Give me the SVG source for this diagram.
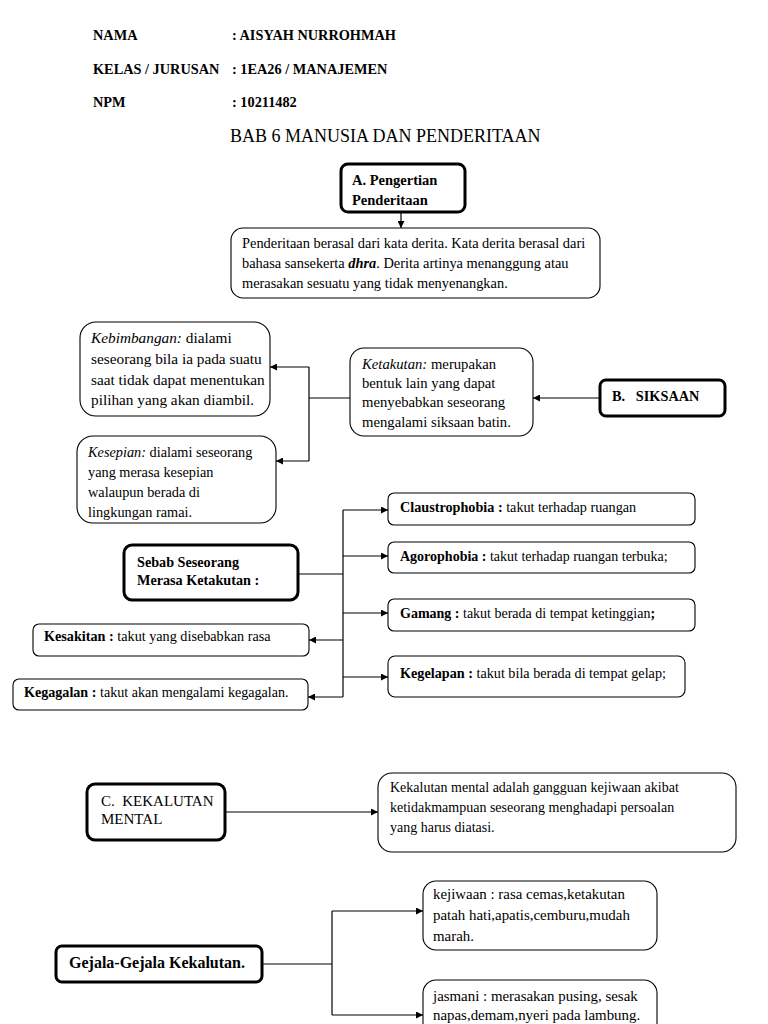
<svg xmlns="http://www.w3.org/2000/svg" width="768" height="1024" viewBox="0 0 768 1024">
<style>
text{font-family:"Liberation Serif","Times New Roman",serif;fill:#000;font-size:14.2px;}
.h{font-size:14.3px;font-weight:bold;}
.b{font-weight:bold;}
.i{font-style:italic;}
.box{fill:#fff;stroke:#000;stroke-width:1.1;}
.tb{fill:#fff;stroke:#000;stroke-width:3;}
.ln{fill:none;stroke:#000;stroke-width:1.2;}
</style>
<defs>
<marker id="ar" viewBox="0 0 10 10" refX="10" refY="5" markerWidth="8" markerHeight="7" markerUnits="userSpaceOnUse" orient="auto"><path d="M0,0 L10,5 L0,10 z" fill="#000"/></marker>
</defs>
<rect width="768" height="1024" fill="#fff"/>
<g id="header">
<text class="h" x="93" y="40">NAMA</text>
<text class="h" x="232" y="40">: AISYAH NURROHMAH</text>
<text class="h" x="93" y="74">KELAS / JURUSAN</text>
<text class="h" x="232" y="74">: 1EA26 / MANAJEMEN</text>
<text class="h" x="93" y="107">NPM</text>
<text class="h" x="232" y="107">: 10211482</text>
<text x="230" y="142" style="font-size:18px">BAB 6 MANUSIA DAN PENDERITAAN</text>
</g>
<g id="connectors">
<line class="ln" x1="401" y1="212" x2="401" y2="228" marker-end="url(#ar)"/>
<line class="ln" x1="350" y1="398" x2="309" y2="398"/>
<line class="ln" x1="309" y1="367" x2="309" y2="461"/>
<line class="ln" x1="309" y1="367" x2="270" y2="367" marker-end="url(#ar)"/>
<line class="ln" x1="309" y1="461" x2="276" y2="461" marker-end="url(#ar)"/>
<line class="ln" x1="600" y1="398" x2="533" y2="398" marker-end="url(#ar)"/>
<line class="ln" x1="299" y1="574" x2="343" y2="574"/>
<line class="ln" x1="343" y1="510" x2="343" y2="697"/>
<line class="ln" x1="343" y1="510" x2="388" y2="510" marker-end="url(#ar)"/>
<line class="ln" x1="343" y1="556" x2="388" y2="556" marker-end="url(#ar)"/>
<line class="ln" x1="343" y1="613" x2="388" y2="613" marker-end="url(#ar)"/>
<line class="ln" x1="343" y1="677" x2="388" y2="677" marker-end="url(#ar)"/>
<line class="ln" x1="343" y1="640" x2="309" y2="640" marker-end="url(#ar)"/>
<line class="ln" x1="343" y1="697" x2="308" y2="697" marker-end="url(#ar)"/>
<line class="ln" x1="225" y1="812" x2="378" y2="812" marker-end="url(#ar)"/>
<line class="ln" x1="262" y1="964" x2="332" y2="964"/>
<line class="ln" x1="332" y1="911" x2="332" y2="1015"/>
<line class="ln" x1="332" y1="911" x2="423" y2="911" marker-end="url(#ar)"/>
<line class="ln" x1="332" y1="1015" x2="423" y2="1015" marker-end="url(#ar)"/>
</g>
<g id="nodeA">
<rect class="tb" x="341" y="164" width="124" height="48" rx="7"/>
<text class="b" x="352" y="185" style="font-size:14.5px">A. Pengertian</text>
<text class="b" x="352" y="205" style="font-size:14.5px">Penderitaan</text>
</g>
<g id="defPenderitaan">
<rect class="box" x="231" y="228" width="369" height="70" rx="12"/>
<text x="242" y="248" style="font-size:14.4px">Penderitaan berasal dari kata derita. Kata derita berasal dari</text>
<text x="242" y="268" style="font-size:14.4px">bahasa sansekerta <tspan class="b i">dhra</tspan>. Derita artinya menanggung  atau</text>
<text x="242" y="288" style="font-size:14.4px">merasakan sesuatu yang tidak menyenangkan.</text>
</g>
<g id="kebimbangan">
<rect class="box" x="80" y="322" width="190" height="94" rx="16"/>
<text x="91" y="343" style="font-size:15.3px"><tspan class="i">Kebimbangan:</tspan> dialami</text>
<text x="91" y="364" style="font-size:15.3px">seseorang bila ia pada suatu</text>
<text x="91" y="385" style="font-size:15.3px">saat tidak dapat menentukan</text>
<text x="91" y="405" style="font-size:15.3px">pilihan yang akan diambil.</text>
</g>
<g id="kesepian">
<rect class="box" x="77" y="436" width="199" height="87" rx="16"/>
<text x="88" y="457" style="font-size:14.3px"><tspan class="i">Kesepian:</tspan> dialami seseorang</text>
<text x="88" y="477" style="font-size:14.3px">yang merasa kesepian</text>
<text x="88" y="497" style="font-size:14.3px">walaupun berada di</text>
<text x="88" y="517" style="font-size:14.3px">lingkungan ramai.</text>
</g>
<g id="ketakutan">
<rect class="box" x="350" y="348" width="183" height="88" rx="14"/>
<text x="362" y="369" style="font-size:14.7px"><tspan class="i">Ketakutan:</tspan> merupakan</text>
<text x="362" y="388" style="font-size:14.7px">bentuk lain yang dapat</text>
<text x="362" y="407" style="font-size:14.7px">menyebabkan seseorang</text>
<text x="362" y="427" style="font-size:14.7px">mengalami siksaan batin.</text>
</g>
<g id="siksaan">
<rect class="tb" x="600" y="380" width="125" height="36" rx="6"/>
<text class="b" x="612" y="401" xml:space="preserve" style="font-size:14.3px">B.   SIKSAAN</text>
</g>
<g id="sebab">
<rect class="tb" x="124" y="545" width="174" height="55" rx="8"/>
<text class="b" x="137" y="567">Sebab Seseorang</text>
<text class="b" x="137" y="585">Merasa Ketakutan :</text>
</g>
<g id="claustrophobia">
<rect class="box" x="388" y="493" width="307" height="32" rx="6"/>
<text x="400" y="512"><tspan class="b">Claustrophobia :</tspan> takut terhadap ruangan</text>
</g>
<g id="agorophobia">
<rect class="box" x="388" y="542" width="307" height="31" rx="6"/>
<text x="400" y="561" style="font-size:14px"><tspan class="b">Agorophobia :</tspan> takut terhadap ruangan terbuka;</text>
</g>
<g id="gamang">
<rect class="box" x="388" y="599" width="307" height="32" rx="6"/>
<text x="400" y="618" style="font-size:14px"><tspan class="b">Gamang :</tspan> takut berada di tempat ketinggian<tspan class="b">;</tspan></text>
</g>
<g id="kegelapan">
<rect class="box" x="388" y="656" width="297" height="41" rx="7"/>
<text x="400" y="678"><tspan class="b">Kegelapan :</tspan> takut bila berada di tempat gelap;</text>
</g>
<g id="kesakitan">
<rect class="box" x="33" y="624" width="276" height="32" rx="6"/>
<text x="44" y="641"><tspan class="b">Kesakitan :</tspan> takut yang disebabkan rasa</text>
</g>
<g id="kegagalan">
<rect class="box" x="13" y="679" width="295" height="31" rx="6"/>
<text x="24" y="697" style="font-size:14.1px"><tspan class="b">Kegagalan :</tspan> takut akan mengalami kegagalan.</text>
</g>
<g id="nodeC">
<rect class="tb" x="87" y="784" width="138" height="56" rx="8"/>
<text x="101" y="806" style="font-size:15px" xml:space="preserve">C.  KEKALUTAN</text>
<text x="101" y="824" style="font-size:15px">MENTAL</text>
</g>
<g id="defKekalutan">
<rect class="box" x="378" y="773" width="358" height="79" rx="14"/>
<text x="390" y="792" style="font-size:14px">Kekalutan mental adalah gangguan kejiwaan akibat</text>
<text x="390" y="812" style="font-size:14px">ketidakmampuan seseorang menghadapi persoalan</text>
<text x="390" y="832" style="font-size:14px">yang harus diatasi.</text>
</g>
<g id="gejala">
<rect class="tb" x="56" y="946" width="206" height="36" rx="6"/>
<text class="b" x="69" y="968" style="font-size:16px">Gejala-Gejala Kekalutan.</text>
</g>
<g id="kejiwaan">
<rect class="box" x="423" y="881" width="234" height="69" rx="13"/>
<text x="433" y="899" style="font-size:14.9px">kejiwaan : rasa cemas,ketakutan</text>
<text x="433" y="920" style="font-size:14.9px">patah hati,apatis,cemburu,mudah</text>
<text x="433" y="941" style="font-size:14.9px">marah.</text>
</g>
<g id="jasmani">
<rect class="box" x="423" y="980" width="234" height="60" rx="13"/>
<text x="433" y="1001" style="font-size:14.9px">jasmani : merasakan pusing, sesak</text>
<text x="433" y="1020" style="font-size:14.9px">napas,demam,nyeri pada lambung.</text>
</g>
</svg>
